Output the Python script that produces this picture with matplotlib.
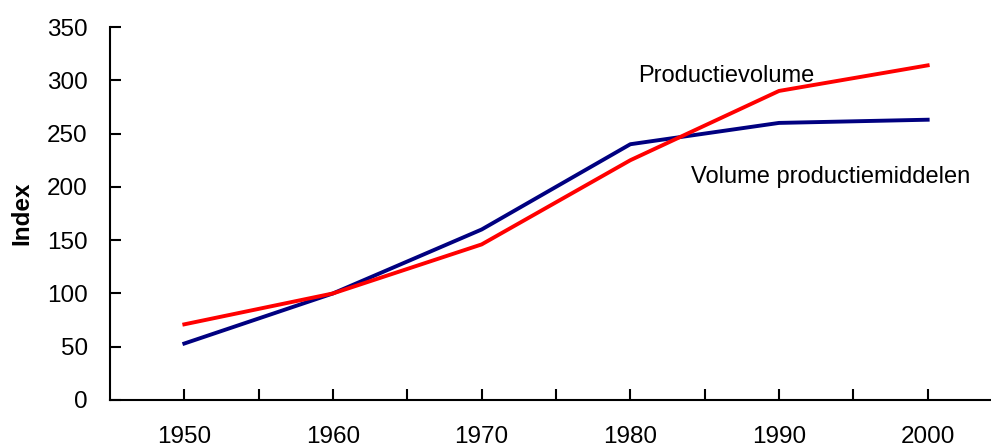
import matplotlib
matplotlib.use("Agg")
import matplotlib.pyplot as plt

plt.rcParams['font.family'] = ['Liberation Sans', 'DejaVu Sans']

years = [1950, 1960, 1970, 1980, 1990, 2000]
productiemiddelen = [53, 100, 160, 240, 260, 263]
productievolume = [71, 100, 146, 225, 290, 314]

fig = plt.figure(figsize=(9.91, 4.45), dpi=100)
ax = fig.add_axes([110 / 991, 45 / 445, 892 / 991, 373 / 445])

ax.plot(years, productiemiddelen, color='#000080', linewidth=2.8)
ax.plot(years, productievolume, color='#ff0000', linewidth=2.8)

ax.set_xlim(1945, 2005)
ax.set_ylim(0, 350)
ax.set_yticks(range(0, 351, 50))
ax.set_xticks(years)
ax.set_xticks([1955, 1965, 1975, 1985, 1995], minor=True)

for s in ['top', 'right']:
    ax.spines[s].set_visible(False)
for s in ['left', 'bottom']:
    ax.spines[s].set_linewidth(1.5)

ax.tick_params(axis='both', which='both', direction='in', length=8, width=1.5)
ax.tick_params(axis='x', which='major', labelsize=17.5, pad=19)
ax.tick_params(axis='y', labelsize=17.5, pad=16)

ax.set_ylabel('Index', fontsize=17.5, fontweight='bold', labelpad=10)

ax.text(1980.5, 304, 'Productievolume', fontsize=17, va='center', ha='left')
ax.text(1984.1, 209, 'Volume productiemiddelen', fontsize=17, va='center', ha='left')

fig.savefig('out.png', dpi=100)
